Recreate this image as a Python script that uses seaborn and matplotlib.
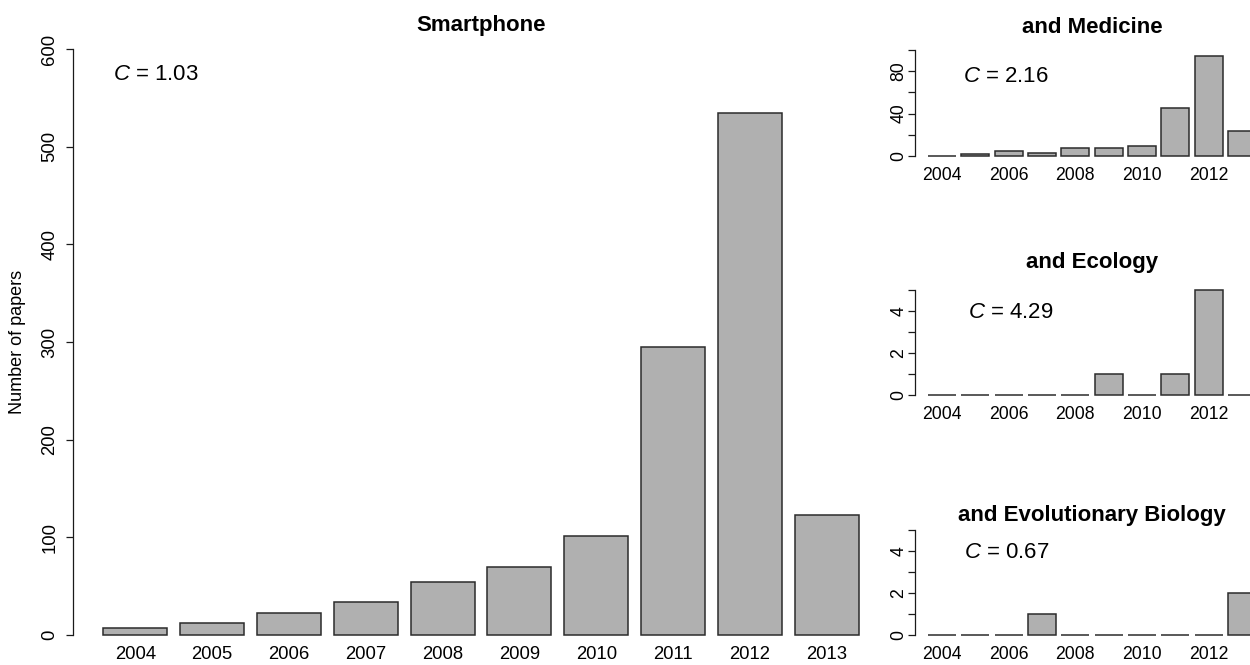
import matplotlib
matplotlib.use("Agg")
import matplotlib.pyplot as plt
import seaborn as sns
import pandas as pd

# Datos
years = [str(y) for y in range(2004, 2014)]
smartphone = [7, 12, 23, 34, 54, 70, 101, 295, 534, 123]
medicine = [0, 2, 5, 3, 8, 8, 9, 45, 94, 24]
ecology = [0, 0, 0, 0, 0, 1, 0, 1, 5, 0]
evolution = [0, 0, 0, 1, 0, 0, 0, 0, 0, 2]
c_values = ["1.03", "2.16", "4.29", "0.67"]
titles = ["Smartphone", "and Medicine", "and Ecology", "and Evolutionary Biology"]

sns.set_style("white")
plt.rcParams["font.family"] = ["Liberation Sans", "DejaVu Sans"]
plt.rcParams["mathtext.fontset"] = "custom"
plt.rcParams["mathtext.it"] = "Liberation Sans:italic"
plt.rcParams["mathtext.rm"] = "Liberation Sans"
plt.rcParams["text.color"] = "black"
plt.rcParams["axes.labelcolor"] = "black"
plt.rcParams["xtick.color"] = "black"
plt.rcParams["ytick.color"] = "black"

W, H = 1250, 665
fig = plt.figure(figsize=(W / 100, H / 100), dpi=100)


def px_axes(left, right, top, bottom):
    return fig.add_axes([left / W, 1 - bottom / H, (right - left) / W, (bottom - top) / H])


def draw_panel(ax, vals, ylim, ticks, ticklabels, every, size, xpad, ypad):
    df = pd.DataFrame({"year": years, "n": vals})
    sns.barplot(data=df, x="year", y="n", color="#b0b0b0", saturation=1,
                width=1 / 1.2, edgecolor="#2b2b2b", linewidth=1.1, ax=ax)
    ax.set_xlim(-0.81, 9.81)
    ax.set_ylim(*ylim)
    for s in ["top", "right", "bottom"]:
        ax.spines[s].set_visible(False)
    ax.spines["left"].set_bounds(ticks[0], ticks[-1])
    ax.spines["left"].set_color("#1a1a1a")
    ax.spines["left"].set_linewidth(0.9)
    ax.set_yticks(ticks)
    ax.set_yticklabels(ticklabels, rotation=90, va="center", fontsize=size)
    ax.tick_params(axis="y", direction="out", length=5, width=0.9, color="#1a1a1a", pad=ypad, left=True)
    ax.set_xticks(range(len(years)))
    ax.set_xticklabels([y if i % every == 0 else "" for i, y in enumerate(years)], fontsize=size)
    ax.tick_params(axis="x", length=0, pad=xpad)
    ax.set_xlabel("")
    ax.set_ylabel("")


# === Panel principal ===
ax0 = px_axes(73, 889, 25.6, 658.4)
draw_panel(ax0, smartphone, (-24, 624), list(range(0, 601, 100)),
           [str(v) for v in range(0, 601, 100)], 1, 13.3, -8.9, 5.5)
ax0.set_ylabel("Number of papers", fontsize=13, va="center")
ax0.yaxis.set_label_coords((18 - 73) / 816, 0.5)
ax0.text(0.5, (658.4 - 31) / 632.8, titles[0], transform=ax0.transAxes,
         ha="center", va="baseline", fontsize=16, fontweight="bold")
ax0.text((113 - 73) / 816, (658.4 - 80) / 632.8, "$C$ = " + c_values[0],
         transform=ax0.transAxes, ha="left", va="baseline", fontsize=16)

# === Paneles pequenos ===
small = [
    (medicine, 45.76, 160.24, (-4, 104), list(range(0, 101, 20)), ["0", "", "40", "", "80", ""], 33, (963, 81.7)),
    (ecology, 285.8, 399.2, (-0.2, 5.2), list(range(0, 6)), ["0", "", "2", "", "4", ""], 268, (968, 318.3)),
    (evolution, 525.8, 639.2, (-0.2, 5.2), list(range(0, 6)), ["0", "", "2", "", "4", ""], 521, (964, 558.3)),
]
for i, (vals, top, bottom, ylim, ticks, labels, title_y, cpos) in enumerate(small):
    ax = px_axes(915, 1269, top, bottom)
    draw_panel(ax, vals, ylim, ticks, labels, 2, 12.7, 4.9, 0.5)
    h = bottom - top
    ax.text(0.5, (bottom - title_y) / h, titles[i + 1], transform=ax.transAxes,
            ha="center", va="baseline", fontsize=16, fontweight="bold")
    ax.text((cpos[0] - 915) / 354, (bottom - cpos[1]) / h, "$C$ = " + c_values[i + 1],
            transform=ax.transAxes, ha="left", va="baseline", fontsize=16)

fig.savefig("out.png", dpi=100)
